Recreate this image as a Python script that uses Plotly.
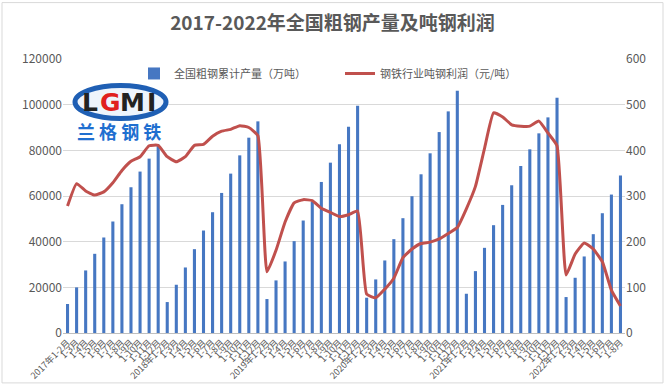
import plotly.graph_objects as go

years = ["2017", "2018", "2019", "2020", "2021", "2022"]
months_full = ["1-2月", "1-3月", "1-4月", "1-5月", "1-6月", "1-7月", "1-8月", "1-9月", "1-10月", "1-11月", "1-12月"]
months_2022 = months_full[:7]

tick_labels = []
for y in years:
    ms = months_2022 if y == "2022" else months_full
    for i, m in enumerate(ms):
        tick_labels.append(f"{y}年{m}" if i == 0 else m)

production = [
    12700, 19980, 27400, 34680, 41830, 48830, 56400, 63830, 70700, 76370, 82500,
    13550, 21130, 28700, 36720, 44880, 52900, 61340, 69800, 77800, 85540, 92690,
    14870, 23030, 31330, 40220, 49260, 57410, 66150, 74600, 82630, 90350, 99530,
    15450, 23460, 31770, 41100, 50280, 59900, 69510, 78700, 88000, 97060, 106100,
    17190, 27100, 37300, 47220, 56100, 64700, 73150, 80440, 87440, 94430, 103040,
    15740, 24190, 33520, 43280, 52460, 60630, 68930,
]
profit = [
    278, 327, 311, 302, 309, 329, 356, 376, 386, 410, 411,
    386, 375, 386, 411, 413, 431, 442, 446, 454, 450, 432,
    134, 181, 243, 285, 292, 290, 273, 264, 255, 259, 267,
    85, 77, 96, 120, 165, 184, 196, 199, 206, 218, 231,
    272, 321, 404, 482, 473, 456, 453, 453, 464, 438, 410,
    127, 173, 197, 184, 156, 94, 59,
]

x = list(range(len(tick_labels)))
FONT = "Noto Sans CJK SC"
GREY = "#595959"

L, R, T, B = 63, 625, 58.5, 333
W, H = 665, 385

def px(v):
    return (v - L) / (R - L)

def py(v):
    return (B - v) / (B - T)

fig = go.Figure()
fig.add_trace(go.Bar(
    x=x, y=production, name="全国粗钢累计产量（万吨）",
    marker=dict(color="#4677c2", line=dict(width=0)),
    yaxis="y",
))
fig.add_trace(go.Scatter(
    x=x, y=profit, name="钢铁行业吨钢利润（元/吨）",
    mode="lines", line=dict(color="#c0504d", width=3, shape="spline", smoothing=0.4),
    yaxis="y2",
))

fig.update_layout(
    width=W, height=H,
    margin=dict(l=L, r=W - R, t=T, b=H - B, autoexpand=False),
    paper_bgcolor="white", plot_bgcolor="white",
    font=dict(family=FONT, color=GREY, size=11),
    title=dict(text="<b>2017-2022年全国粗钢产量及吨钢利润</b>", x=0.5, xanchor="center",
               y=1 - 23 / H, yanchor="middle", font=dict(size=19, color=GREY, family=FONT)),
    bargap=0.66,
    showlegend=True,
    legend=dict(orientation="h", x=px(134), y=py(73), xanchor="left", yanchor="middle",
                font=dict(size=11, color=GREY, family=FONT), bgcolor="rgba(0,0,0,0)",
                entrywidth=161, entrywidthmode="pixels", tracegroupgap=0),
    xaxis=dict(range=[-0.5, len(x) - 0.5], tickmode="array", tickvals=x, ticktext=tick_labels,
               tickangle=-45, tickfont=dict(size=9, color=GREY), showgrid=False, automargin=False,
               showline=True, linecolor="#bfbfbf", linewidth=1, ticks="", zeroline=False),
    yaxis=dict(range=[0, 120000], dtick=20000, tickformat="d", showgrid=True, gridcolor="#d9d9d9",
               gridwidth=1, zeroline=False, tickfont=dict(size=12, color=GREY), ticks="",
               showline=False, automargin=False),
    yaxis2=dict(range=[0, 600], dtick=100, overlaying="y", side="right", showgrid=False,
                zeroline=False, tickfont=dict(size=12, color=GREY), ticks="", showline=False,
                automargin=False),
)

# outer border of the chart
fig.add_shape(type="rect", xref="paper", yref="paper", x0=px(2), x1=px(W - 2), y0=py(H - 2), y1=py(2),
              line=dict(color="#d9d9d9", width=1), fillcolor="rgba(0,0,0,0)", layer="below")

# logo approximation
fig.add_shape(type="circle", xref="paper", yref="paper",
              x0=px(75), x1=px(166), y0=py(118), y1=py(85),
              line=dict(color="#1f5fb4", width=5), fillcolor="#eef4fc")
for ch, cx, col in [("L", 90, "#222222"), ("G", 110, "#e02020"), ("M", 132, "#222222"), ("I", 151, "#222222")]:
    fig.add_annotation(xref="paper", yref="paper", x=px(cx), y=py(102), xanchor="center", yanchor="middle",
                       text=f"<b>{ch}</b>", showarrow=False,
                       font=dict(size=25, color=col, family="DejaVu Sans"))
fig.add_annotation(xref="paper", yref="paper", x=px(119), y=py(131), xanchor="center", yanchor="middle",
                   text="<b>兰 格 钢 铁</b>", showarrow=False,
                   font=dict(size=18, color="#1f6fd0", family=FONT))

fig.write_html("out.html", post_script="document.body.style.margin='0px';",
               config={"displayModeBar": False})
